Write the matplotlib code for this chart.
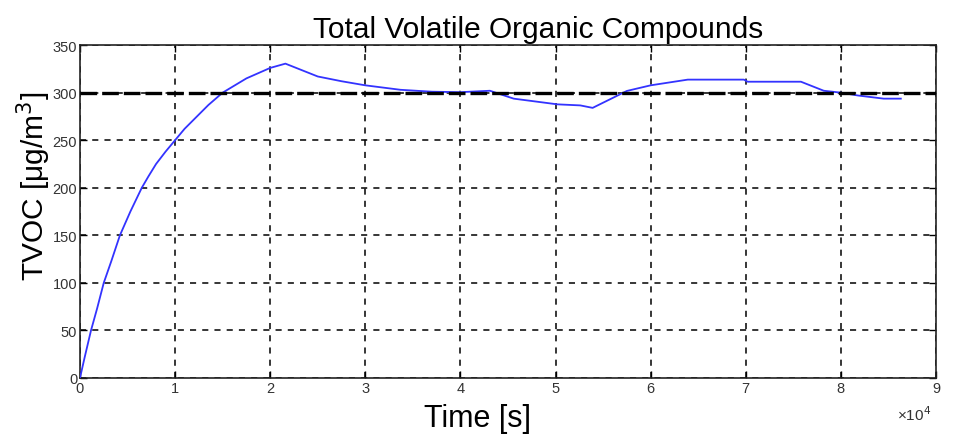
import matplotlib
matplotlib.use("Agg")
import matplotlib.pyplot as plt

# Time (units of 1e4 s) and TVOC concentration (ug/m^3)
time_1e4 = [0.0, 0.05, 0.116, 0.18, 0.25, 0.33, 0.42, 0.53, 0.65, 0.72, 0.8, 0.9, 1.0,
            1.1, 1.2, 1.35, 1.5, 1.75, 2.0, 2.16, 2.5, 2.75, 3.0, 3.37, 3.7, 4.0, 4.31,
            4.56, 5.02, 5.26, 5.39, 5.75, 6.0, 6.39, 6.98, 7.02, 7.58, 7.82, 8.0, 8.18,
            8.45, 8.63]
tvoc = [0, 22, 50, 73, 100, 123, 150, 175, 200, 212, 225, 238, 250,
        262, 272, 287, 300, 315, 326, 330.5, 317, 312, 307.7, 303, 301, 300.5, 302,
        293.7, 287.7, 286.6, 284, 301.8, 307.7, 313.7, 313.7, 311.5, 311.5, 302, 300, 297,
        293.7, 293.7]
setpoint = 300

x_ticks = [0, 1, 2, 3, 4, 5, 6, 7, 8, 9]
y_ticks = [0, 50, 100, 150, 200, 250, 300, 350]

plt.rcParams['font.family'] = ['Liberation Sans', 'DejaVu Sans']

fig = plt.figure(figsize=(9.6, 4.39), dpi=100)
ax = fig.add_axes([0.0833, 0.1367, 0.8917, 0.7583])

ax.plot(time_1e4, tvoc, color='#3333ff', lw=1.3, zorder=3)
ax.axhline(setpoint, color='black', lw=2.4, ls=(0, (5, 1.5)), zorder=4)

ax.set_xlim(0, 9)
ax.set_ylim(0, 350)
ax.set_xticks(x_ticks)
ax.set_yticks(y_ticks)
ax.set_xticklabels([str(v) for v in x_ticks])
ax.set_yticklabels([str(v) for v in y_ticks])
ax.tick_params(direction='in', length=5, width=1, labelsize=10.5, colors='black',
               labelcolor='#333333', pad=2)
ax.tick_params(top=True, right=True)

ax.grid(True, color='black', ls=(0, (4, 4)), lw=1.1)
for s in ax.spines.values():
    s.set_linewidth(1.2)
    s.set_color('#222222')

ax.set_title('Total Volatile Organic Compounds', fontsize=21.5, pad=6, x=0.535)
ax.set_xlabel('Time [s]', fontsize=22)
ax.xaxis.set_label_coords(0.464, -0.075)
ax.set_ylabel('TVOC [\u03bcg/m$^3$]', fontsize=21.5)
ax.yaxis.set_label_coords(-0.031, 0.58)

fig.text(0.934, 0.04, '\u00d710$^4$', fontsize=11, color='#333333')

fig.savefig('out.png', dpi=100)
